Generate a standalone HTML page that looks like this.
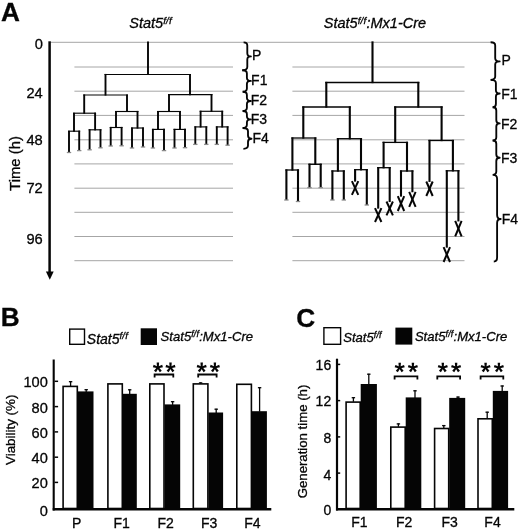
<!DOCTYPE html>
<html><head><meta charset="utf-8"><title>Figure</title>
<style>
html,body{margin:0;padding:0;background:#fff;}
body{width:520px;height:530px;overflow:hidden;}
svg{display:block;will-change:transform;}
text{font-family:"Liberation Sans",sans-serif;fill:#050505;stroke:#050505;stroke-width:0.3px;}
</style></head><body>
<svg width="520" height="530" viewBox="0 0 520 530">
<rect x="0" y="0" width="520" height="530" fill="#ffffff"/>
<line x1="50" y1="42.3" x2="491" y2="42.3" stroke="#a6a6a6" stroke-width="1" stroke-linecap="butt"/>
<line x1="74.4" y1="67.0" x2="233" y2="67.0" stroke="#a6a6a6" stroke-width="1" stroke-linecap="butt"/>
<line x1="292.4" y1="67.0" x2="464.5" y2="67.0" stroke="#a6a6a6" stroke-width="1" stroke-linecap="butt"/>
<line x1="74.4" y1="91.2" x2="233" y2="91.2" stroke="#a6a6a6" stroke-width="1" stroke-linecap="butt"/>
<line x1="292.4" y1="91.2" x2="464.5" y2="91.2" stroke="#a6a6a6" stroke-width="1" stroke-linecap="butt"/>
<line x1="74.4" y1="115.4" x2="233" y2="115.4" stroke="#a6a6a6" stroke-width="1" stroke-linecap="butt"/>
<line x1="292.4" y1="115.4" x2="464.5" y2="115.4" stroke="#a6a6a6" stroke-width="1" stroke-linecap="butt"/>
<line x1="74.4" y1="139.8" x2="233" y2="139.8" stroke="#a6a6a6" stroke-width="1" stroke-linecap="butt"/>
<line x1="292.4" y1="139.8" x2="464.5" y2="139.8" stroke="#a6a6a6" stroke-width="1" stroke-linecap="butt"/>
<line x1="74.4" y1="163.9" x2="233" y2="163.9" stroke="#a6a6a6" stroke-width="1" stroke-linecap="butt"/>
<line x1="292.4" y1="163.9" x2="464.5" y2="163.9" stroke="#a6a6a6" stroke-width="1" stroke-linecap="butt"/>
<line x1="74.4" y1="188.2" x2="233" y2="188.2" stroke="#a6a6a6" stroke-width="1" stroke-linecap="butt"/>
<line x1="292.4" y1="188.2" x2="464.5" y2="188.2" stroke="#a6a6a6" stroke-width="1" stroke-linecap="butt"/>
<line x1="74.4" y1="212.3" x2="233" y2="212.3" stroke="#a6a6a6" stroke-width="1" stroke-linecap="butt"/>
<line x1="292.4" y1="212.3" x2="464.5" y2="212.3" stroke="#a6a6a6" stroke-width="1" stroke-linecap="butt"/>
<line x1="74.4" y1="236.5" x2="233" y2="236.5" stroke="#a6a6a6" stroke-width="1" stroke-linecap="butt"/>
<line x1="292.4" y1="236.5" x2="464.5" y2="236.5" stroke="#a6a6a6" stroke-width="1" stroke-linecap="butt"/>
<line x1="74.4" y1="260.7" x2="233" y2="260.7" stroke="#a6a6a6" stroke-width="1" stroke-linecap="butt"/>
<line x1="292.4" y1="260.7" x2="464.5" y2="260.7" stroke="#a6a6a6" stroke-width="1" stroke-linecap="butt"/>
<line x1="148" y1="41.425" x2="148" y2="75.075" stroke="#050505" stroke-width="1.9" stroke-linecap="butt"/>
<line x1="104.55" y1="74.5" x2="190.95" y2="74.5" stroke="#050505" stroke-width="1.15" stroke-linecap="butt"/>
<line x1="105.5" y1="73.925" x2="105.5" y2="95.575" stroke="#050505" stroke-width="1.9" stroke-linecap="butt"/>
<line x1="83.25" y1="95" x2="127.95" y2="95" stroke="#050505" stroke-width="1.15" stroke-linecap="butt"/>
<line x1="190" y1="73.925" x2="190" y2="95.175" stroke="#050505" stroke-width="1.9" stroke-linecap="butt"/>
<line x1="168.05" y1="94.6" x2="212.45" y2="94.6" stroke="#050505" stroke-width="1.15" stroke-linecap="butt"/>
<line x1="84.2" y1="94.425" x2="84.2" y2="113.775" stroke="#050505" stroke-width="1.9" stroke-linecap="butt"/>
<line x1="73.05" y1="113.2" x2="96.05" y2="113.2" stroke="#050505" stroke-width="1.15" stroke-linecap="butt"/>
<line x1="127" y1="94.425" x2="127" y2="112.075" stroke="#050505" stroke-width="1.9" stroke-linecap="butt"/>
<line x1="115.05" y1="111.5" x2="138.45" y2="111.5" stroke="#050505" stroke-width="1.15" stroke-linecap="butt"/>
<line x1="169" y1="94.02499999999999" x2="169" y2="112.075" stroke="#050505" stroke-width="1.9" stroke-linecap="butt"/>
<line x1="157.05" y1="111.5" x2="180.95" y2="111.5" stroke="#050505" stroke-width="1.15" stroke-linecap="butt"/>
<line x1="211.5" y1="94.02499999999999" x2="211.5" y2="111.875" stroke="#050505" stroke-width="1.9" stroke-linecap="butt"/>
<line x1="199.65" y1="111.3" x2="223.14999999999998" y2="111.3" stroke="#050505" stroke-width="1.15" stroke-linecap="butt"/>
<line x1="74.0" y1="112.625" x2="74.0" y2="131.77499999999998" stroke="#050505" stroke-width="1.9" stroke-linecap="butt"/>
<line x1="68.05" y1="131.2" x2="80.15" y2="131.2" stroke="#050505" stroke-width="1.15" stroke-linecap="butt"/>
<line x1="69.0" y1="130.625" x2="69.0" y2="152.5" stroke="#050505" stroke-width="1.9" stroke-linecap="butt"/>
<line x1="66.8" y1="152.5" x2="71.2" y2="152.5" stroke="#8a8a8a" stroke-width="1.3" stroke-linecap="butt"/>
<line x1="79.2" y1="130.625" x2="79.2" y2="150.6" stroke="#050505" stroke-width="1.9" stroke-linecap="butt"/>
<line x1="77.0" y1="150.6" x2="81.4" y2="150.6" stroke="#8a8a8a" stroke-width="1.3" stroke-linecap="butt"/>
<line x1="95.1" y1="112.625" x2="95.1" y2="130.375" stroke="#050505" stroke-width="1.9" stroke-linecap="butt"/>
<line x1="88.64999999999999" y1="129.8" x2="101.45" y2="129.8" stroke="#050505" stroke-width="1.15" stroke-linecap="butt"/>
<line x1="89.6" y1="129.22500000000002" x2="89.6" y2="149.8" stroke="#050505" stroke-width="1.9" stroke-linecap="butt"/>
<line x1="87.39999999999999" y1="149.8" x2="91.8" y2="149.8" stroke="#8a8a8a" stroke-width="1.3" stroke-linecap="butt"/>
<line x1="100.5" y1="129.22500000000002" x2="100.5" y2="147.8" stroke="#050505" stroke-width="1.9" stroke-linecap="butt"/>
<line x1="98.3" y1="147.8" x2="102.7" y2="147.8" stroke="#8a8a8a" stroke-width="1.3" stroke-linecap="butt"/>
<line x1="116" y1="110.925" x2="116" y2="128.075" stroke="#050505" stroke-width="1.9" stroke-linecap="butt"/>
<line x1="109.75" y1="127.5" x2="122.55" y2="127.5" stroke="#050505" stroke-width="1.15" stroke-linecap="butt"/>
<line x1="110.7" y1="126.925" x2="110.7" y2="146" stroke="#050505" stroke-width="1.9" stroke-linecap="butt"/>
<line x1="108.5" y1="146" x2="112.9" y2="146" stroke="#8a8a8a" stroke-width="1.3" stroke-linecap="butt"/>
<line x1="121.6" y1="126.925" x2="121.6" y2="145.8" stroke="#050505" stroke-width="1.9" stroke-linecap="butt"/>
<line x1="119.39999999999999" y1="145.8" x2="123.8" y2="145.8" stroke="#8a8a8a" stroke-width="1.3" stroke-linecap="butt"/>
<line x1="137.5" y1="110.925" x2="137.5" y2="128.575" stroke="#050505" stroke-width="1.9" stroke-linecap="butt"/>
<line x1="131.05" y1="128" x2="143.95" y2="128" stroke="#050505" stroke-width="1.15" stroke-linecap="butt"/>
<line x1="132" y1="127.425" x2="132" y2="148" stroke="#050505" stroke-width="1.9" stroke-linecap="butt"/>
<line x1="129.8" y1="148" x2="134.2" y2="148" stroke="#8a8a8a" stroke-width="1.3" stroke-linecap="butt"/>
<line x1="143" y1="127.425" x2="143" y2="147" stroke="#050505" stroke-width="1.9" stroke-linecap="butt"/>
<line x1="140.8" y1="147" x2="145.2" y2="147" stroke="#8a8a8a" stroke-width="1.3" stroke-linecap="butt"/>
<line x1="158" y1="110.925" x2="158" y2="129.975" stroke="#050505" stroke-width="1.9" stroke-linecap="butt"/>
<line x1="151.95000000000002" y1="129.4" x2="164.95" y2="129.4" stroke="#050505" stroke-width="1.15" stroke-linecap="butt"/>
<line x1="152.9" y1="128.82500000000002" x2="152.9" y2="148" stroke="#050505" stroke-width="1.9" stroke-linecap="butt"/>
<line x1="150.70000000000002" y1="148" x2="155.1" y2="148" stroke="#8a8a8a" stroke-width="1.3" stroke-linecap="butt"/>
<line x1="164" y1="128.82500000000002" x2="164" y2="150.6" stroke="#050505" stroke-width="1.9" stroke-linecap="butt"/>
<line x1="161.8" y1="150.6" x2="166.2" y2="150.6" stroke="#8a8a8a" stroke-width="1.3" stroke-linecap="butt"/>
<line x1="180" y1="110.925" x2="180" y2="129.975" stroke="#050505" stroke-width="1.9" stroke-linecap="butt"/>
<line x1="173.55" y1="129.4" x2="185.95" y2="129.4" stroke="#050505" stroke-width="1.15" stroke-linecap="butt"/>
<line x1="174.5" y1="128.82500000000002" x2="174.5" y2="148" stroke="#050505" stroke-width="1.9" stroke-linecap="butt"/>
<line x1="172.3" y1="148" x2="176.7" y2="148" stroke="#8a8a8a" stroke-width="1.3" stroke-linecap="butt"/>
<line x1="185" y1="128.82500000000002" x2="185" y2="147.7" stroke="#050505" stroke-width="1.9" stroke-linecap="butt"/>
<line x1="182.8" y1="147.7" x2="187.2" y2="147.7" stroke="#8a8a8a" stroke-width="1.3" stroke-linecap="butt"/>
<line x1="200.6" y1="110.725" x2="200.6" y2="127.47500000000001" stroke="#050505" stroke-width="1.9" stroke-linecap="butt"/>
<line x1="194.35000000000002" y1="126.9" x2="207.25" y2="126.9" stroke="#050505" stroke-width="1.15" stroke-linecap="butt"/>
<line x1="195.3" y1="126.325" x2="195.3" y2="144.4" stroke="#050505" stroke-width="1.9" stroke-linecap="butt"/>
<line x1="193.10000000000002" y1="144.4" x2="197.5" y2="144.4" stroke="#8a8a8a" stroke-width="1.3" stroke-linecap="butt"/>
<line x1="206.3" y1="126.325" x2="206.3" y2="144.4" stroke="#050505" stroke-width="1.9" stroke-linecap="butt"/>
<line x1="204.10000000000002" y1="144.4" x2="208.5" y2="144.4" stroke="#8a8a8a" stroke-width="1.3" stroke-linecap="butt"/>
<line x1="222.2" y1="110.725" x2="222.2" y2="127.47500000000001" stroke="#050505" stroke-width="1.9" stroke-linecap="butt"/>
<line x1="215.85000000000002" y1="126.9" x2="228.54999999999998" y2="126.9" stroke="#050505" stroke-width="1.15" stroke-linecap="butt"/>
<line x1="216.8" y1="126.325" x2="216.8" y2="144.4" stroke="#050505" stroke-width="1.9" stroke-linecap="butt"/>
<line x1="214.60000000000002" y1="144.4" x2="219.0" y2="144.4" stroke="#8a8a8a" stroke-width="1.3" stroke-linecap="butt"/>
<line x1="227.6" y1="126.325" x2="227.6" y2="145.2" stroke="#050505" stroke-width="1.9" stroke-linecap="butt"/>
<line x1="225.4" y1="145.2" x2="229.79999999999998" y2="145.2" stroke="#8a8a8a" stroke-width="1.3" stroke-linecap="butt"/>
<line x1="372.5" y1="41.35" x2="372.5" y2="83.15" stroke="#050505" stroke-width="2.1" stroke-linecap="butt"/>
<line x1="325.25" y1="82.5" x2="419.35" y2="82.5" stroke="#050505" stroke-width="1.3" stroke-linecap="butt"/>
<line x1="326.3" y1="81.85" x2="326.3" y2="107.65" stroke="#050505" stroke-width="2.1" stroke-linecap="butt"/>
<line x1="302.25" y1="107" x2="350.85" y2="107" stroke="#050505" stroke-width="1.3" stroke-linecap="butt"/>
<line x1="418.3" y1="81.85" x2="418.3" y2="107.65" stroke="#050505" stroke-width="2.1" stroke-linecap="butt"/>
<line x1="394.15" y1="107" x2="442.65000000000003" y2="107" stroke="#050505" stroke-width="1.3" stroke-linecap="butt"/>
<line x1="303.3" y1="106.35" x2="303.3" y2="138.65" stroke="#050505" stroke-width="2.1" stroke-linecap="butt"/>
<line x1="291.34999999999997" y1="138" x2="316.35" y2="138" stroke="#050505" stroke-width="1.3" stroke-linecap="butt"/>
<line x1="349.8" y1="106.35" x2="349.8" y2="139.35" stroke="#050505" stroke-width="2.1" stroke-linecap="butt"/>
<line x1="336.84999999999997" y1="138.7" x2="362.05" y2="138.7" stroke="#050505" stroke-width="1.3" stroke-linecap="butt"/>
<line x1="395.2" y1="106.35" x2="395.2" y2="143.05" stroke="#050505" stroke-width="2.1" stroke-linecap="butt"/>
<line x1="382.55" y1="142.4" x2="408.05" y2="142.4" stroke="#050505" stroke-width="1.3" stroke-linecap="butt"/>
<line x1="441.6" y1="106.35" x2="441.6" y2="141.15" stroke="#050505" stroke-width="2.1" stroke-linecap="butt"/>
<line x1="428.45" y1="140.5" x2="453.95" y2="140.5" stroke="#050505" stroke-width="1.3" stroke-linecap="butt"/>
<line x1="292.4" y1="137.35" x2="292.4" y2="170.65" stroke="#050505" stroke-width="2.1" stroke-linecap="butt"/>
<line x1="285.34999999999997" y1="170" x2="299.05" y2="170" stroke="#050505" stroke-width="1.3" stroke-linecap="butt"/>
<line x1="286.4" y1="169.35" x2="286.4" y2="200" stroke="#050505" stroke-width="2.1" stroke-linecap="butt"/>
<line x1="284.2" y1="200" x2="288.59999999999997" y2="200" stroke="#8a8a8a" stroke-width="1.3" stroke-linecap="butt"/>
<line x1="298" y1="169.35" x2="298" y2="201.5" stroke="#050505" stroke-width="2.1" stroke-linecap="butt"/>
<line x1="295.8" y1="201.5" x2="300.2" y2="201.5" stroke="#8a8a8a" stroke-width="1.3" stroke-linecap="butt"/>
<line x1="315.3" y1="137.35" x2="315.3" y2="164.95000000000002" stroke="#050505" stroke-width="2.1" stroke-linecap="butt"/>
<line x1="308.45" y1="164.3" x2="321.75" y2="164.3" stroke="#050505" stroke-width="1.3" stroke-linecap="butt"/>
<line x1="309.5" y1="163.65" x2="309.5" y2="187.6" stroke="#050505" stroke-width="2.1" stroke-linecap="butt"/>
<line x1="307.3" y1="187.6" x2="311.7" y2="187.6" stroke="#8a8a8a" stroke-width="1.3" stroke-linecap="butt"/>
<line x1="320.7" y1="163.65" x2="320.7" y2="187.6" stroke="#050505" stroke-width="2.1" stroke-linecap="butt"/>
<line x1="318.5" y1="187.6" x2="322.9" y2="187.6" stroke="#8a8a8a" stroke-width="1.3" stroke-linecap="butt"/>
<line x1="337.9" y1="138.04999999999998" x2="337.9" y2="171.65" stroke="#050505" stroke-width="2.1" stroke-linecap="butt"/>
<line x1="331.34999999999997" y1="171" x2="344.85" y2="171" stroke="#050505" stroke-width="1.3" stroke-linecap="butt"/>
<line x1="332.4" y1="170.35" x2="332.4" y2="200" stroke="#050505" stroke-width="2.1" stroke-linecap="butt"/>
<line x1="330.2" y1="200" x2="334.59999999999997" y2="200" stroke="#8a8a8a" stroke-width="1.3" stroke-linecap="butt"/>
<line x1="343.8" y1="170.35" x2="343.8" y2="200" stroke="#050505" stroke-width="2.1" stroke-linecap="butt"/>
<line x1="341.6" y1="200" x2="346.0" y2="200" stroke="#8a8a8a" stroke-width="1.3" stroke-linecap="butt"/>
<line x1="361" y1="138.04999999999998" x2="361" y2="170.35" stroke="#050505" stroke-width="2.1" stroke-linecap="butt"/>
<line x1="354.05" y1="169.7" x2="367.85" y2="169.7" stroke="#050505" stroke-width="1.3" stroke-linecap="butt"/>
<line x1="355.1" y1="169.04999999999998" x2="355.1" y2="181.65" stroke="#050505" stroke-width="2.1" stroke-linecap="butt"/>
<line x1="351.90000000000003" y1="181.1" x2="358.3" y2="194.8" stroke="#050505" stroke-width="2.0" stroke-linecap="butt"/>
<line x1="358.3" y1="181.1" x2="351.90000000000003" y2="194.8" stroke="#050505" stroke-width="2.0" stroke-linecap="butt"/>
<line x1="366.8" y1="169.04999999999998" x2="366.8" y2="205" stroke="#050505" stroke-width="2.1" stroke-linecap="butt"/>
<line x1="364.6" y1="205" x2="369.0" y2="205" stroke="#8a8a8a" stroke-width="1.3" stroke-linecap="butt"/>
<line x1="383.6" y1="141.75" x2="383.6" y2="168.35" stroke="#050505" stroke-width="2.1" stroke-linecap="butt"/>
<line x1="377.15" y1="167.7" x2="390.75" y2="167.7" stroke="#050505" stroke-width="1.3" stroke-linecap="butt"/>
<line x1="378.2" y1="167.04999999999998" x2="378.2" y2="208.65" stroke="#050505" stroke-width="2.1" stroke-linecap="butt"/>
<line x1="375.0" y1="208.2" x2="381.4" y2="222" stroke="#050505" stroke-width="2.0" stroke-linecap="butt"/>
<line x1="381.4" y1="208.2" x2="375.0" y2="222" stroke="#050505" stroke-width="2.0" stroke-linecap="butt"/>
<line x1="389.7" y1="167.04999999999998" x2="389.7" y2="202.05" stroke="#050505" stroke-width="2.1" stroke-linecap="butt"/>
<line x1="386.5" y1="201.5" x2="392.9" y2="215.3" stroke="#050505" stroke-width="2.0" stroke-linecap="butt"/>
<line x1="392.9" y1="201.5" x2="386.5" y2="215.3" stroke="#050505" stroke-width="2.0" stroke-linecap="butt"/>
<line x1="407" y1="141.75" x2="407" y2="171.65" stroke="#050505" stroke-width="2.1" stroke-linecap="butt"/>
<line x1="399.95" y1="171" x2="413.45" y2="171" stroke="#050505" stroke-width="1.3" stroke-linecap="butt"/>
<line x1="401" y1="170.35" x2="401" y2="196.65" stroke="#050505" stroke-width="2.1" stroke-linecap="butt"/>
<line x1="397.8" y1="196.2" x2="404.2" y2="211" stroke="#050505" stroke-width="2.0" stroke-linecap="butt"/>
<line x1="404.2" y1="196.2" x2="397.8" y2="211" stroke="#050505" stroke-width="2.0" stroke-linecap="butt"/>
<line x1="412.4" y1="170.35" x2="412.4" y2="192.25" stroke="#050505" stroke-width="2.1" stroke-linecap="butt"/>
<line x1="409.2" y1="191.79999999999998" x2="415.59999999999997" y2="206.8" stroke="#050505" stroke-width="2.0" stroke-linecap="butt"/>
<line x1="415.59999999999997" y1="191.79999999999998" x2="409.2" y2="206.8" stroke="#050505" stroke-width="2.0" stroke-linecap="butt"/>
<line x1="429.5" y1="139.85" x2="429.5" y2="181.95000000000002" stroke="#050505" stroke-width="2.1" stroke-linecap="butt"/>
<line x1="426.3" y1="181.5" x2="432.7" y2="196" stroke="#050505" stroke-width="2.0" stroke-linecap="butt"/>
<line x1="432.7" y1="181.5" x2="426.3" y2="196" stroke="#050505" stroke-width="2.0" stroke-linecap="butt"/>
<line x1="452.9" y1="139.85" x2="452.9" y2="171.45000000000002" stroke="#050505" stroke-width="2.1" stroke-linecap="butt"/>
<line x1="445.75" y1="170.8" x2="459.45" y2="170.8" stroke="#050505" stroke-width="1.3" stroke-linecap="butt"/>
<line x1="446.8" y1="170.15" x2="446.8" y2="247.65" stroke="#050505" stroke-width="2.1" stroke-linecap="butt"/>
<line x1="443.6" y1="247.1" x2="450.0" y2="262" stroke="#050505" stroke-width="2.0" stroke-linecap="butt"/>
<line x1="450.0" y1="247.1" x2="443.6" y2="262" stroke="#050505" stroke-width="2.0" stroke-linecap="butt"/>
<line x1="458.4" y1="170.15" x2="458.4" y2="221.45000000000002" stroke="#050505" stroke-width="2.1" stroke-linecap="butt"/>
<line x1="455.2" y1="220.9" x2="461.59999999999997" y2="236.4" stroke="#050505" stroke-width="2.0" stroke-linecap="butt"/>
<line x1="461.59999999999997" y1="220.9" x2="455.2" y2="236.4" stroke="#050505" stroke-width="2.0" stroke-linecap="butt"/>
<path d="M243.6,42.3 Q247.3,42.3 247.3,45.5 L247.3,53.199999999999996 Q247.3,56.4 250.9,56.4 Q247.3,56.4 247.3,59.6 L247.3,67.0 Q247.3,70.2 242.2,70.2" fill="none" stroke="#050505" stroke-width="1.85" stroke-linejoin="round" stroke-linecap="butt"/>
<path d="M242.4,70.2 Q246.9,70.2 246.9,73.4 L246.9,77.7 Q246.9,80.9 250.9,80.9 Q246.9,80.9 246.9,84.10000000000001 L246.9,88.5 Q246.9,91.7 242.6,91.7" fill="none" stroke="#050505" stroke-width="1.85" stroke-linejoin="round" stroke-linecap="butt"/>
<path d="M242.8,91.7 Q246.9,91.7 246.9,94.9 L246.9,97.8 Q246.9,101 250.9,101 Q246.9,101 246.9,104.2 L246.9,107.8 Q246.9,111 242.6,111" fill="none" stroke="#050505" stroke-width="1.85" stroke-linejoin="round" stroke-linecap="butt"/>
<path d="M242.8,111 Q246.9,111 246.9,114.2 L246.9,116.2 Q246.9,119.4 250.9,119.4 Q246.9,119.4 246.9,122.60000000000001 L246.9,124.8 Q246.9,128 242.6,128" fill="none" stroke="#050505" stroke-width="1.85" stroke-linejoin="round" stroke-linecap="butt"/>
<path d="M242.8,128 Q248,128 248,131.2 L248,135.5 Q248,138.7 251.5,138.7 Q248,138.7 248,141.89999999999998 L248,145.60000000000002 Q248,148.8 243.4,148.8" fill="none" stroke="#050505" stroke-width="1.85" stroke-linejoin="round" stroke-linecap="butt"/>
<path d="M490.6,42.2 Q495.2,42.2 495.2,45.400000000000006 L495.2,58.199999999999996 Q495.2,61.4 499.7,61.4 Q495.2,61.4 495.2,64.6 L495.2,76.6 Q495.2,79.8 490.6,79.8" fill="none" stroke="#050505" stroke-width="1.85" stroke-linejoin="round" stroke-linecap="butt"/>
<path d="M490.8,79.8 Q495.9,79.8 495.9,83.0 L495.9,90.3 Q495.9,93.5 499.7,93.5 Q495.9,93.5 495.9,96.7 L495.9,104.0 Q495.9,107.2 492.6,107.2" fill="none" stroke="#050505" stroke-width="1.85" stroke-linejoin="round" stroke-linecap="butt"/>
<path d="M492.8,107.2 Q496.3,107.2 496.3,110.4 L496.3,120.2 Q496.3,123.4 499.7,123.4 Q496.3,123.4 496.3,126.60000000000001 L496.3,137.3 Q496.3,140.5 492.6,140.5" fill="none" stroke="#050505" stroke-width="1.85" stroke-linejoin="round" stroke-linecap="butt"/>
<path d="M492.8,140.5 Q496.3,140.5 496.3,143.7 L496.3,154.5 Q496.3,157.7 499.7,157.7 Q496.3,157.7 496.3,160.89999999999998 L496.3,171.60000000000002 Q496.3,174.8 492.6,174.8" fill="none" stroke="#050505" stroke-width="1.85" stroke-linejoin="round" stroke-linecap="butt"/>
<path d="M493.2,174.8 Q497.1,174.8 497.1,178.8 L497.1,215 Q497.1,219 500.7,219 Q497.1,219 497.1,223 L497.1,257.5 Q497.1,261.5 493.8,261.5" fill="none" stroke="#050505" stroke-width="1.85" stroke-linejoin="round" stroke-linecap="butt"/>
<text x="252.1" y="60.4" text-anchor="start" style="font-size:14px;" >P</text>
<text x="251.1" y="85.2" text-anchor="start" style="font-size:14px;" >F1</text>
<text x="250.8" y="105.2" text-anchor="start" style="font-size:14px;" >F2</text>
<text x="250.8" y="123.7" text-anchor="start" style="font-size:14px;" >F3</text>
<text x="252.4" y="143.3" text-anchor="start" style="font-size:14px;" >F4</text>
<text x="501.5" y="64.9" text-anchor="start" style="font-size:14px;" >P</text>
<text x="501.2" y="99.2" text-anchor="start" style="font-size:14px;" >F1</text>
<text x="501.0" y="128.7" text-anchor="start" style="font-size:14px;" >F2</text>
<text x="501.0" y="162.6" text-anchor="start" style="font-size:14px;" >F3</text>
<text x="501.7" y="223.7" text-anchor="start" style="font-size:14px;" >F4</text>
<line x1="49.6" y1="41.3" x2="49.6" y2="273" stroke="#050505" stroke-width="2.5" stroke-linecap="butt"/>
<path d="M45.9,271.6 L53.7,271.6 L49.8,279.8 Z" fill="#050505"/>
<text x="42.8" y="49.1" text-anchor="end" style="font-size:14.7px;" >0</text>
<text x="42.8" y="98" text-anchor="end" style="font-size:14.7px;" >24</text>
<text x="42.8" y="145.1" text-anchor="end" style="font-size:14.7px;" >48</text>
<text x="42.8" y="193.3" text-anchor="end" style="font-size:14.7px;" >72</text>
<text x="42.8" y="243.5" text-anchor="end" style="font-size:14.7px;" >96</text>
<text transform="translate(19.7,190.9) rotate(-90)" style="font-size:14.9px">Time (h)</text>
<text x="1.0" y="20.9" text-anchor="start" style="font-size:26.2px;font-weight:bold;" >A</text>
<text x="0.8" y="325.8" text-anchor="start" style="font-size:26.2px;font-weight:bold;" >B</text>
<text x="296.3" y="327.0" text-anchor="start" style="font-size:26.2px;font-weight:bold;" >C</text>
<text x="129.3" y="28.4" text-anchor="start" style="font-size:14.5px;font-style:italic;" >Stat5<tspan dy="-4.79" style="font-size:9.86px;letter-spacing:0.2px">f/f</tspan></text>
<text x="323.8" y="28.4" text-anchor="start" style="font-size:14.5px;font-style:italic;" >Stat5<tspan dy="-4.79" style="font-size:9.86px;letter-spacing:0.2px">f/f</tspan><tspan dy="4.79">:Mx1-Cre</tspan></text>
<rect x="69.7" y="329.09999999999997" width="14.800000000000002" height="15.200000000000022" fill="#fff" stroke="#050505" stroke-width="1.4"/>
<text x="86.8" y="343.6" text-anchor="start" style="font-size:14px;font-style:italic;" >Stat5<tspan dy="-4.62" style="font-size:9.52px;letter-spacing:0.2px">f/f</tspan></text>
<rect x="140.7" y="328.3" width="16.30000000000001" height="16.69999999999999" fill="#050505"/>
<text x="160.6" y="341.3" text-anchor="start" style="font-size:13.1px;font-style:italic;" >Stat5<tspan dy="-4.32" style="font-size:8.91px;letter-spacing:0.2px">f/f</tspan><tspan dy="4.32">:Mx1-Cre</tspan></text>
<line x1="70.6" y1="381.2" x2="70.6" y2="386.1" stroke="#050505" stroke-width="1.3" stroke-linecap="butt"/>
<line x1="68.89999999999999" y1="381.7" x2="72.3" y2="381.7" stroke="#050505" stroke-width="1.3" stroke-linecap="butt"/>
<line x1="86.2" y1="389.2" x2="86.2" y2="391.9" stroke="#050505" stroke-width="1.3" stroke-linecap="butt"/>
<line x1="84.5" y1="389.7" x2="87.9" y2="389.7" stroke="#050505" stroke-width="1.3" stroke-linecap="butt"/>
<rect x="63.099999999999994" y="386.40000000000003" width="14.199999999999998" height="122.1" fill="#fff" stroke="#050505" stroke-width="1.6"/>
<rect x="77.8" y="391.4" width="15.700000000000003" height="117.90000000000003" fill="#050505"/>
<line x1="129.7" y1="389.3" x2="129.7" y2="394.3" stroke="#050505" stroke-width="1.3" stroke-linecap="butt"/>
<line x1="127.99999999999999" y1="389.8" x2="131.39999999999998" y2="389.8" stroke="#050505" stroke-width="1.3" stroke-linecap="butt"/>
<rect x="107.89999999999999" y="383.90000000000003" width="14.4" height="124.6" fill="#fff" stroke="#050505" stroke-width="1.6"/>
<rect x="122.8" y="393.8" width="14.000000000000014" height="115.5" fill="#050505"/>
<line x1="172.6" y1="401.2" x2="172.6" y2="404.9" stroke="#050505" stroke-width="1.3" stroke-linecap="butt"/>
<line x1="170.9" y1="401.7" x2="174.29999999999998" y2="401.7" stroke="#050505" stroke-width="1.3" stroke-linecap="butt"/>
<rect x="149.8" y="383.90000000000003" width="14.200000000000012" height="124.6" fill="#fff" stroke="#050505" stroke-width="1.6"/>
<rect x="164.5" y="404.4" width="15.699999999999989" height="104.90000000000003" fill="#050505"/>
<line x1="200.6" y1="382.4" x2="200.6" y2="383.6" stroke="#050505" stroke-width="1.3" stroke-linecap="butt"/>
<line x1="198.9" y1="382.9" x2="202.29999999999998" y2="382.9" stroke="#050505" stroke-width="1.3" stroke-linecap="butt"/>
<line x1="216.2" y1="408.7" x2="216.2" y2="413.0" stroke="#050505" stroke-width="1.3" stroke-linecap="butt"/>
<line x1="214.5" y1="409.2" x2="217.89999999999998" y2="409.2" stroke="#050505" stroke-width="1.3" stroke-linecap="butt"/>
<rect x="193.3" y="383.90000000000003" width="14.599999999999989" height="124.6" fill="#fff" stroke="#050505" stroke-width="1.6"/>
<rect x="208.39999999999998" y="412.5" width="14.700000000000017" height="96.80000000000001" fill="#050505"/>
<line x1="259.6" y1="387.2" x2="259.6" y2="411.7" stroke="#050505" stroke-width="1.3" stroke-linecap="butt"/>
<line x1="257.90000000000003" y1="387.7" x2="261.3" y2="387.7" stroke="#050505" stroke-width="1.3" stroke-linecap="butt"/>
<rect x="236.8" y="384.3" width="14.599999999999989" height="124.20000000000002" fill="#fff" stroke="#050505" stroke-width="1.6"/>
<rect x="251.89999999999998" y="411.2" width="15.0" height="98.10000000000002" fill="#050505"/>
<line x1="53.7" y1="359.5" x2="53.7" y2="510.5" stroke="#050505" stroke-width="2.1" stroke-linecap="butt"/>
<line x1="52.7" y1="509.3" x2="271.3" y2="509.3" stroke="#050505" stroke-width="2.6" stroke-linecap="butt"/>
<line x1="54.5" y1="381.3" x2="58.1" y2="381.3" stroke="#050505" stroke-width="1.5" stroke-linecap="butt"/>
<line x1="54.5" y1="406.6" x2="58.1" y2="406.6" stroke="#050505" stroke-width="1.5" stroke-linecap="butt"/>
<line x1="54.5" y1="431.9" x2="58.1" y2="431.9" stroke="#050505" stroke-width="1.5" stroke-linecap="butt"/>
<line x1="54.5" y1="457.2" x2="58.1" y2="457.2" stroke="#050505" stroke-width="1.5" stroke-linecap="butt"/>
<line x1="54.5" y1="482.4" x2="58.1" y2="482.4" stroke="#050505" stroke-width="1.5" stroke-linecap="butt"/>
<text x="47.8" y="387.3" text-anchor="end" style="font-size:14.6px;" >100</text>
<text x="47.8" y="412.8" text-anchor="end" style="font-size:14.6px;" >80</text>
<text x="47.8" y="438" text-anchor="end" style="font-size:14.6px;" >60</text>
<text x="47.8" y="463" text-anchor="end" style="font-size:14.6px;" >40</text>
<text x="47.8" y="488" text-anchor="end" style="font-size:14.6px;" >20</text>
<text x="47.8" y="516.3" text-anchor="end" style="font-size:14.6px;" >0</text>
<text x="76.6" y="527.5" text-anchor="middle" style="font-size:14px;" >P</text>
<text x="121.7" y="527.5" text-anchor="middle" style="font-size:14px;" >F1</text>
<text x="165.6" y="527.5" text-anchor="middle" style="font-size:14px;" >F2</text>
<text x="209.1" y="527.5" text-anchor="middle" style="font-size:14px;" >F3</text>
<text x="252.3" y="527.5" text-anchor="middle" style="font-size:14px;" >F4</text>
<text transform="translate(14.5,465.0) rotate(-90)" style="font-size:13.4px">Viability (%)</text>
<polygon points="158.78,367.50 159.13,362.60 156.67,362.60 157.02,367.50" fill="#050505"/>
<polygon points="158.17,368.34 162.94,367.16 162.18,364.81 157.63,366.66" fill="#050505"/>
<polygon points="157.19,368.02 159.78,372.19 161.78,370.74 158.61,366.98" fill="#050505"/>
<polygon points="157.19,366.98 154.02,370.74 156.02,372.19 158.61,368.02" fill="#050505"/>
<polygon points="158.17,366.66 153.62,364.81 152.86,367.16 157.63,368.34" fill="#050505"/>
<circle cx="157.9" cy="367.5" r="1.21" fill="#050505"/>
<polygon points="171.38,367.50 171.73,362.60 169.27,362.60 169.62,367.50" fill="#050505"/>
<polygon points="170.77,368.34 175.54,367.16 174.78,364.81 170.23,366.66" fill="#050505"/>
<polygon points="169.79,368.02 172.38,372.19 174.38,370.74 171.21,366.98" fill="#050505"/>
<polygon points="169.79,366.98 166.62,370.74 168.62,372.19 171.21,368.02" fill="#050505"/>
<polygon points="170.77,366.66 166.22,364.81 165.46,367.16 170.23,368.34" fill="#050505"/>
<circle cx="170.5" cy="367.5" r="1.21" fill="#050505"/>
<path d="M154.6,377.6 L154.6,374.5 L173.3,374.5 L173.3,377.6" fill="none" stroke="#050505" stroke-width="1.8"/>
<polygon points="202.58,367.50 202.93,362.60 200.47,362.60 200.82,367.50" fill="#050505"/>
<polygon points="201.97,368.34 206.74,367.16 205.98,364.81 201.43,366.66" fill="#050505"/>
<polygon points="200.99,368.02 203.58,372.19 205.58,370.74 202.41,366.98" fill="#050505"/>
<polygon points="200.99,366.98 197.82,370.74 199.82,372.19 202.41,368.02" fill="#050505"/>
<polygon points="201.97,366.66 197.42,364.81 196.66,367.16 201.43,368.34" fill="#050505"/>
<circle cx="201.7" cy="367.5" r="1.21" fill="#050505"/>
<polygon points="215.78,367.50 216.13,362.60 213.67,362.60 214.02,367.50" fill="#050505"/>
<polygon points="215.17,368.34 219.94,367.16 219.18,364.81 214.63,366.66" fill="#050505"/>
<polygon points="214.19,368.02 216.78,372.19 218.78,370.74 215.61,366.98" fill="#050505"/>
<polygon points="214.19,366.98 211.02,370.74 213.02,372.19 215.61,368.02" fill="#050505"/>
<polygon points="215.17,366.66 210.62,364.81 209.86,367.16 214.63,368.34" fill="#050505"/>
<circle cx="214.9" cy="367.5" r="1.21" fill="#050505"/>
<path d="M198.2,377.6 L198.2,374.5 L216.6,374.5 L216.6,377.6" fill="none" stroke="#050505" stroke-width="1.8"/>
<rect x="323.9" y="327.7" width="16.700000000000024" height="16.6" fill="#fff" stroke="#050505" stroke-width="1.4"/>
<text x="343.2" y="342.4" text-anchor="start" style="font-size:13.1px;font-style:italic;" >Stat5<tspan dy="-4.32" style="font-size:8.91px;letter-spacing:0.2px">f/f</tspan></text>
<rect x="395.4" y="327.6" width="16.900000000000034" height="17.0" fill="#050505"/>
<text x="414.9" y="341.3" text-anchor="start" style="font-size:13.1px;font-style:italic;" >Stat5<tspan dy="-4.32" style="font-size:8.91px;letter-spacing:0.2px">f/f</tspan><tspan dy="4.32">:Mx1-Cre</tspan></text>
<line x1="353.4" y1="397.2" x2="353.4" y2="401.8" stroke="#050505" stroke-width="1.3" stroke-linecap="butt"/>
<line x1="351.7" y1="397.7" x2="355.09999999999997" y2="397.7" stroke="#050505" stroke-width="1.3" stroke-linecap="butt"/>
<line x1="368.8" y1="373.7" x2="368.8" y2="384.5" stroke="#050505" stroke-width="1.3" stroke-linecap="butt"/>
<line x1="367.1" y1="374.2" x2="370.5" y2="374.2" stroke="#050505" stroke-width="1.3" stroke-linecap="butt"/>
<rect x="346.1" y="402.1" width="14.099999999999989" height="106.4" fill="#fff" stroke="#050505" stroke-width="1.6"/>
<rect x="360.7" y="384" width="16.19999999999999" height="125.30000000000001" fill="#050505"/>
<line x1="398.4" y1="423.4" x2="398.4" y2="426.8" stroke="#050505" stroke-width="1.3" stroke-linecap="butt"/>
<line x1="396.7" y1="423.9" x2="400.09999999999997" y2="423.9" stroke="#050505" stroke-width="1.3" stroke-linecap="butt"/>
<line x1="415" y1="390.3" x2="415" y2="397.9" stroke="#050505" stroke-width="1.3" stroke-linecap="butt"/>
<line x1="413.3" y1="390.8" x2="416.7" y2="390.8" stroke="#050505" stroke-width="1.3" stroke-linecap="butt"/>
<rect x="390.8" y="427.1" width="14.4" height="81.4" fill="#fff" stroke="#050505" stroke-width="1.6"/>
<rect x="405.7" y="397.4" width="15.600000000000023" height="111.90000000000003" fill="#050505"/>
<line x1="443.8" y1="425.1" x2="443.8" y2="428.2" stroke="#050505" stroke-width="1.3" stroke-linecap="butt"/>
<line x1="442.1" y1="425.6" x2="445.5" y2="425.6" stroke="#050505" stroke-width="1.3" stroke-linecap="butt"/>
<line x1="458" y1="396.6" x2="458" y2="398.4" stroke="#050505" stroke-width="1.3" stroke-linecap="butt"/>
<line x1="456.3" y1="397.1" x2="459.7" y2="397.1" stroke="#050505" stroke-width="1.3" stroke-linecap="butt"/>
<rect x="434.6" y="428.5" width="14.099999999999989" height="80.00000000000003" fill="#fff" stroke="#050505" stroke-width="1.6"/>
<rect x="449.2" y="397.9" width="16.0" height="111.40000000000003" fill="#050505"/>
<line x1="487.2" y1="411.7" x2="487.2" y2="418.5" stroke="#050505" stroke-width="1.3" stroke-linecap="butt"/>
<line x1="485.5" y1="412.2" x2="488.9" y2="412.2" stroke="#050505" stroke-width="1.3" stroke-linecap="butt"/>
<line x1="502.2" y1="385.5" x2="502.2" y2="391.4" stroke="#050505" stroke-width="1.3" stroke-linecap="butt"/>
<line x1="500.5" y1="386.0" x2="503.9" y2="386.0" stroke="#050505" stroke-width="1.3" stroke-linecap="butt"/>
<rect x="478.0" y="418.8" width="14.300000000000034" height="89.70000000000002" fill="#fff" stroke="#050505" stroke-width="1.6"/>
<rect x="492.8" y="390.9" width="15.300000000000011" height="118.40000000000003" fill="#050505"/>
<line x1="337" y1="358.7" x2="337" y2="510.5" stroke="#050505" stroke-width="2.2" stroke-linecap="butt"/>
<line x1="336" y1="509.3" x2="514.3" y2="509.3" stroke="#050505" stroke-width="2.6" stroke-linecap="butt"/>
<line x1="337.8" y1="364.4" x2="340.2" y2="364.4" stroke="#050505" stroke-width="1.5" stroke-linecap="butt"/>
<line x1="337.8" y1="400.6" x2="340.2" y2="400.6" stroke="#050505" stroke-width="1.5" stroke-linecap="butt"/>
<line x1="337.8" y1="436.9" x2="340.2" y2="436.9" stroke="#050505" stroke-width="1.5" stroke-linecap="butt"/>
<line x1="337.8" y1="473.1" x2="340.2" y2="473.1" stroke="#050505" stroke-width="1.5" stroke-linecap="butt"/>
<text x="331.2" y="369.7" text-anchor="end" style="font-size:14px;" >16</text>
<text x="331.2" y="405.6" text-anchor="end" style="font-size:14px;" >12</text>
<text x="331.2" y="443" text-anchor="end" style="font-size:14px;" >8</text>
<text x="331.2" y="479.7" text-anchor="end" style="font-size:14px;" >4</text>
<text x="331.2" y="515.3" text-anchor="end" style="font-size:14px;" >0</text>
<text x="359.3" y="527.4" text-anchor="middle" style="font-size:14px;" >F1</text>
<text x="404.2" y="527.4" text-anchor="middle" style="font-size:14px;" >F2</text>
<text x="449.6" y="527.4" text-anchor="middle" style="font-size:14px;" >F3</text>
<text x="492.5" y="527.4" text-anchor="middle" style="font-size:14px;" >F4</text>
<text transform="translate(307.3,498.3) rotate(-90)" style="font-size:13.2px">Generation time (h)</text>
<polygon points="400.58,367.60 400.93,362.70 398.47,362.70 398.82,367.60" fill="#050505"/>
<polygon points="399.97,368.44 404.74,367.26 403.98,364.91 399.43,366.76" fill="#050505"/>
<polygon points="398.99,368.12 401.58,372.29 403.58,370.84 400.41,367.08" fill="#050505"/>
<polygon points="398.99,367.08 395.82,370.84 397.82,372.29 400.41,368.12" fill="#050505"/>
<polygon points="399.97,366.76 395.42,364.91 394.66,367.26 399.43,368.44" fill="#050505"/>
<circle cx="399.7" cy="367.6" r="1.21" fill="#050505"/>
<polygon points="413.78,367.60 414.13,362.70 411.67,362.70 412.02,367.60" fill="#050505"/>
<polygon points="413.17,368.44 417.94,367.26 417.18,364.91 412.63,366.76" fill="#050505"/>
<polygon points="412.19,368.12 414.78,372.29 416.78,370.84 413.61,367.08" fill="#050505"/>
<polygon points="412.19,367.08 409.02,370.84 411.02,372.29 413.61,368.12" fill="#050505"/>
<polygon points="413.17,366.76 408.62,364.91 407.86,367.26 412.63,368.44" fill="#050505"/>
<circle cx="412.9" cy="367.6" r="1.21" fill="#050505"/>
<path d="M394.6,379.5 L394.6,376.4 L417.4,376.4 L417.4,379.5" fill="none" stroke="#050505" stroke-width="1.8"/>
<polygon points="443.68,367.60 444.03,362.70 441.57,362.70 441.92,367.60" fill="#050505"/>
<polygon points="443.07,368.44 447.84,367.26 447.08,364.91 442.53,366.76" fill="#050505"/>
<polygon points="442.09,368.12 444.68,372.29 446.68,370.84 443.51,367.08" fill="#050505"/>
<polygon points="442.09,367.08 438.92,370.84 440.92,372.29 443.51,368.12" fill="#050505"/>
<polygon points="443.07,366.76 438.52,364.91 437.76,367.26 442.53,368.44" fill="#050505"/>
<circle cx="442.8" cy="367.6" r="1.21" fill="#050505"/>
<polygon points="456.98,367.60 457.33,362.70 454.87,362.70 455.22,367.60" fill="#050505"/>
<polygon points="456.37,368.44 461.14,367.26 460.38,364.91 455.83,366.76" fill="#050505"/>
<polygon points="455.39,368.12 457.98,372.29 459.98,370.84 456.81,367.08" fill="#050505"/>
<polygon points="455.39,367.08 452.22,370.84 454.22,372.29 456.81,368.12" fill="#050505"/>
<polygon points="456.37,366.76 451.82,364.91 451.06,367.26 455.83,368.44" fill="#050505"/>
<circle cx="456.1" cy="367.6" r="1.21" fill="#050505"/>
<path d="M437.3,379.5 L437.3,376.3 L460.1,376.3 L460.1,379.5" fill="none" stroke="#050505" stroke-width="1.8"/>
<polygon points="486.48,367.60 486.83,362.70 484.37,362.70 484.72,367.60" fill="#050505"/>
<polygon points="485.87,368.44 490.64,367.26 489.88,364.91 485.33,366.76" fill="#050505"/>
<polygon points="484.89,368.12 487.48,372.29 489.48,370.84 486.31,367.08" fill="#050505"/>
<polygon points="484.89,367.08 481.72,370.84 483.72,372.29 486.31,368.12" fill="#050505"/>
<polygon points="485.87,366.76 481.32,364.91 480.56,367.26 485.33,368.44" fill="#050505"/>
<circle cx="485.6" cy="367.6" r="1.21" fill="#050505"/>
<polygon points="499.78,367.60 500.13,362.70 497.67,362.70 498.02,367.60" fill="#050505"/>
<polygon points="499.17,368.44 503.94,367.26 503.18,364.91 498.63,366.76" fill="#050505"/>
<polygon points="498.19,368.12 500.78,372.29 502.78,370.84 499.61,367.08" fill="#050505"/>
<polygon points="498.19,367.08 495.02,370.84 497.02,372.29 499.61,368.12" fill="#050505"/>
<polygon points="499.17,366.76 494.62,364.91 493.86,367.26 498.63,368.44" fill="#050505"/>
<circle cx="498.9" cy="367.6" r="1.21" fill="#050505"/>
<path d="M480.6,379.5 L480.6,376.3 L503.3,376.3 L503.3,379.5" fill="none" stroke="#050505" stroke-width="1.8"/>
</svg>
</body></html>
